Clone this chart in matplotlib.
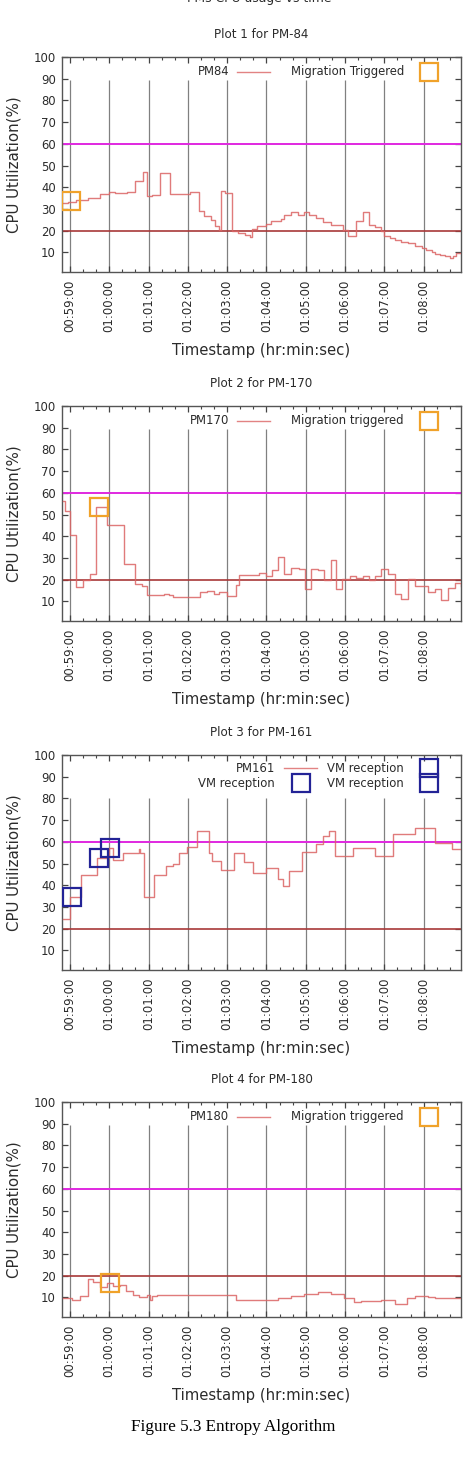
import matplotlib
matplotlib.use("Agg")
import matplotlib.pyplot as plt
from matplotlib.ticker import MultipleLocator, FuncFormatter

# --- data ---
pm84_times = ["00:58:49", "00:58:57", "00:59:10", "00:59:27", "00:59:46", "00:59:59",
              "01:00:09", "01:00:27", "01:00:40", "01:00:52", "01:00:57", "01:01:05",
              "01:01:18", "01:01:33", "01:02:04", "01:02:17", "01:02:25", "01:02:35",
              "01:02:41", "01:02:47", "01:02:51", "01:02:56", "01:03:08", "01:03:17",
              "01:03:28", "01:03:35", "01:03:38", "01:03:46", "01:03:59", "01:04:07",
              "01:04:22", "01:04:27", "01:04:37", "01:04:48", "01:04:58", "01:05:05",
              "01:05:16", "01:05:26", "01:05:39", "01:05:57", "01:06:04", "01:06:17",
              "01:06:27", "01:06:36", "01:06:45", "01:06:55", "01:07:00", "01:07:08",
              "01:07:16", "01:07:26", "01:07:36", "01:07:46", "01:07:57", "01:08:04",
              "01:08:12", "01:08:17", "01:08:25", "01:08:32", "01:08:40", "01:08:45",
              "01:08:50", "01:08:58"]
pm84_cpu = [33.0, 33.4, 34.0, 35.0, 37.0, 38.0,
            37.6, 38.0, 43.0, 47.0, 36.0, 36.5,
            46.5, 37.0, 38.0, 29.0, 27.0, 25.0,
            22.0, 20.5, 38.5, 37.2, 19.7, 19.0,
            18.2, 17.3, 20.7, 22.4, 23.2, 24.7,
            25.5, 27.3, 28.8, 27.3, 28.5, 27.3,
            25.9, 24.0, 22.5, 20.5, 17.5, 24.3,
            28.5, 22.7, 21.6, 20.0, 17.7, 16.5,
            15.9, 15.0, 14.2, 13.1, 12.0, 10.9,
            10.1, 9.3, 8.8, 8.2, 7.3, 8.5,
            9.8, 9.8]
pm84_migration_times = ["00:59:02"]
pm84_migration_cpu = [33.7]

pm170_times = ["00:58:49", "00:58:52", "00:59:00", "00:59:09", "00:59:20", "00:59:30",
               "00:59:40", "00:59:56", "01:00:23", "01:00:40", "01:00:50", "01:00:58",
               "01:01:23", "01:01:31", "01:01:38", "01:02:19", "01:02:30", "01:02:40",
               "01:02:47", "01:03:00", "01:03:13", "01:03:18", "01:03:49", "01:03:59",
               "01:04:09", "01:04:17", "01:04:27", "01:04:37", "01:04:50", "01:04:59",
               "01:05:08", "01:05:18", "01:05:28", "01:05:39", "01:05:46", "01:05:56",
               "01:06:07", "01:06:17", "01:06:27", "01:06:37", "01:06:45", "01:06:55",
               "01:07:05", "01:07:16", "01:07:26", "01:07:36", "01:07:46", "01:08:07",
               "01:08:17", "01:08:27", "01:08:37", "01:08:48", "01:08:57"]
pm170_cpu = [56.4, 51.8, 40.7, 16.7, 19.7, 22.5,
             53.4, 45.0, 27.4, 18.2, 17.0, 12.8,
             13.6, 12.8, 12.1, 14.4, 14.8, 13.6,
             14.4, 12.4, 17.4, 22.0, 23.1, 21.6,
             24.6, 30.4, 22.8, 25.5, 25.0, 15.9,
             24.8, 24.3, 20.0, 28.9, 15.9, 20.5,
             21.6, 21.0, 21.6, 20.0, 21.6, 25.0,
             22.5, 13.6, 11.3, 20.5, 17.0, 14.4,
             15.9, 10.6, 16.4, 18.5, 17.0]
pm170_migration_times = ["00:59:44"]
pm170_migration_cpu = [53.7]

pm161_times = ["00:58:49", "00:59:00", "00:59:17", "00:59:41", "00:59:59", "01:00:06",
               "01:00:21", "01:00:45", "01:00:47", "01:00:53", "01:01:08", "01:01:26",
               "01:01:38", "01:01:46", "01:01:59", "01:02:14", "01:02:32", "01:02:37",
               "01:02:50", "01:03:10", "01:03:25", "01:03:40", "01:03:59", "01:04:17",
               "01:04:25", "01:04:35", "01:04:55", "01:05:16", "01:05:26", "01:05:36",
               "01:05:44", "01:06:12", "01:06:45", "01:07:13", "01:07:46", "01:08:17",
               "01:08:43", "01:08:57"]
pm161_cpu = [24.6, 34.7, 44.7, 52.6, 57.2, 51.8,
             54.9, 56.8, 54.7, 34.7, 44.7, 49.0,
             49.8, 54.7, 57.8, 64.9, 54.7, 51.4,
             47.2, 54.9, 50.6, 45.6, 47.8, 42.9,
             39.8, 46.7, 55.2, 59.1, 62.6, 64.9,
             53.7, 57.2, 53.4, 63.4, 66.5, 59.7,
             56.8, 56.8]
pm161_reception_times = ["00:59:03", "00:59:44", "01:00:01"]
pm161_reception_cpu = [34.8, 52.6, 57.1]

pm180_times = ["00:58:49", "00:59:03", "00:59:15", "00:59:27", "00:59:35", "00:59:46",
               "00:59:56", "01:00:06", "01:00:17", "01:00:26", "01:00:37", "01:00:45",
               "01:00:58", "01:01:03", "01:01:05", "01:01:13", "01:01:28", "01:01:59",
               "01:02:40", "01:03:00", "01:03:13", "01:03:36", "01:04:17", "01:04:37",
               "01:04:58", "01:05:18", "01:05:39", "01:05:59", "01:06:14", "01:06:25",
               "01:06:55", "01:07:16", "01:07:34", "01:07:46", "01:08:07", "01:08:17",
               "01:08:57"]
pm180_cpu = [9.7, 8.9, 10.8, 18.5, 16.9, 14.8,
             16.6, 15.4, 15.8, 13.2, 11.2, 10.2,
             11.2, 8.9, 10.5, 11.2, 10.9, 11.2,
             10.9, 11.2, 8.9, 8.6, 9.7, 10.8,
             11.7, 12.3, 11.5, 9.7, 7.7, 8.2,
             8.6, 7.1, 9.7, 10.8, 10.2, 9.8,
             9.8]
pm180_migration_times = ["01:00:01"]
pm180_migration_cpu = [16.5]

upper_threshold = 60
lower_threshold = 20

# --- style ---
LINE_C = "#db6464"
ORANGE = "#f0a22a"
NAVY = "#232396"
TXT = "#2b2b2b"
FS = 8.4


def to_sec(s):
    h, m, sec = map(int, s.split(":"))
    return h * 3600 + m * 60 + sec


def hms(v, pos=None):
    v = int(round(v))
    return f"{v // 3600:02d}:{v % 3600 // 60:02d}:{v % 60:02d}"


def key_text(ax, x, y, label):
    ax.text(x, y, label, transform=ax.transAxes, ha="right", va="center",
            fontsize=FS, color=TXT)


def key_line(ax, x0, x1, y):
    ax.plot([x0, x1], [y, y], transform=ax.transAxes, color=LINE_C, lw=1.0,
            alpha=0.8, clip_on=False)


def key_box(ax, x, y, color):
    ax.plot([x], [y], transform=ax.transAxes, marker="s", ms=12.5, mfc="none",
            mec=color, mew=1.6, clip_on=False)


fig = plt.figure(figsize=(4.67, 14.64), dpi=100)
fig.text(0.555, 1 - 2 / 1464, "PMs CPU usage vs time", ha="center", va="baseline",
         fontsize=8.9, color=TXT)

panels = [
    ("Plot 1 for PM-84", "PM84", pm84_times, pm84_cpu, "Migration Triggered",
     pm84_migration_times, pm84_migration_cpu, ORANGE, 0.81421),
    ("Plot 2 for PM-170", "PM170", pm170_times, pm170_cpu, "Migration triggered",
     pm170_migration_times, pm170_migration_cpu, ORANGE, 0.57582),
    ("Plot 3 for PM-161", "PM161", pm161_times, pm161_cpu, "VM reception",
     pm161_reception_times, pm161_reception_cpu, NAVY, 0.33743),
    ("Plot 4 for PM-180", "PM180", pm180_times, pm180_cpu, "Migration triggered",
     pm180_migration_times, pm180_migration_cpu, ORANGE, 0.10041),
]

xmin, xmax = to_sec("00:58:48"), to_sec("01:08:57")
majors = list(range(to_sec("00:59:00"), to_sec("01:08:00") + 1, 60))

for title, name, times, cpu, ev_label, ev_times, ev_cpu, ev_color, bottom in panels:
    ax = fig.add_axes([0.1328, bottom, 0.8544, 0.14686])
    x = [to_sec(t) for t in times]
    ex = [to_sec(t) for t in ev_times]

    three_col = name == "PM161"
    grid_top = 0.80 if three_col else 0.895
    ax.vlines(majors, 0, grid_top, transform=ax.get_xaxis_transform(),
              color="#808080", lw=0.9, zorder=1)
    ax.axhline(upper_threshold, color="#e028e0", lw=1.4, zorder=2)
    ax.axhline(lower_threshold, color="#a83838", lw=1.2, zorder=2)
    ax.step(x, cpu, where="post", color=LINE_C, lw=1.0, alpha=0.85, zorder=3)
    ax.plot(ex, ev_cpu, ls="none", marker="s", ms=12.5, mfc="none", mec=ev_color,
            mew=1.6, zorder=4)

    ax.set_xlim(xmin, xmax)
    ax.set_ylim(1, 100)
    ax.set_yticks(range(10, 101, 10))
    ax.xaxis.set_major_locator(MultipleLocator(60))
    ax.xaxis.set_minor_locator(MultipleLocator(20))
    ax.set_xticks(majors)
    ax.xaxis.set_major_formatter(FuncFormatter(hms))
    ax.tick_params(axis="both", which="both", direction="in", top=True, right=True,
                   colors="#444444", labelcolor=TXT, labelsize=FS)
    ax.tick_params(axis="both", which="major", length=4.5, width=0.9)
    ax.tick_params(axis="x", which="minor", length=2.5, width=0.8)
    ax.tick_params(axis="x", which="major", pad=5.5, labelrotation=90)
    ax.tick_params(axis="y", which="major", pad=4.5)
    for sp in ax.spines.values():
        sp.set_color("#555555")
        sp.set_linewidth(1.0)

    ax.set_title(title, fontsize=8.6, color=TXT, pad=14)
    ax.set_ylabel("CPU Utilization(%)", fontsize=10.8, color=TXT, va="center")
    ax.yaxis.set_label_coords(-0.12, 0.5)
    ax.set_xlabel("Timestamp (hr:min:sec)", fontsize=10.7, color=TXT, va="center")
    ax.xaxis.set_label_coords(0.5, -0.363)

    # key, drawn the way gnuplot lays it out (text right-aligned before its sample)
    if three_col:
        r1, r2 = 0.938, 0.868
        key_text(ax, 0.534, r1, name)
        key_line(ax, 0.556, 0.639, r1)
        key_text(ax, 0.857, r1, ev_label)
        key_box(ax, 0.92, r1, ev_color)
        key_text(ax, 0.534, r2, ev_label)
        key_box(ax, 0.599, r2, ev_color)
        key_text(ax, 0.857, r2, ev_label)
        key_box(ax, 0.92, r2, ev_color)
    else:
        r1 = 0.932
        key_text(ax, 0.4185, r1, name)
        key_line(ax, 0.4386, 0.5213, r1)
        key_text(ax, 0.857, r1, ev_label)
        key_box(ax, 0.92, r1, ev_color)

fig.text(0.5, 1 - 1427 / 1464, "Figure 5.3 Entropy Algorithm", ha="center",
         va="center", fontsize=12.3, family="Liberation Serif", color="black")

fig.savefig("out.png", dpi=100)
